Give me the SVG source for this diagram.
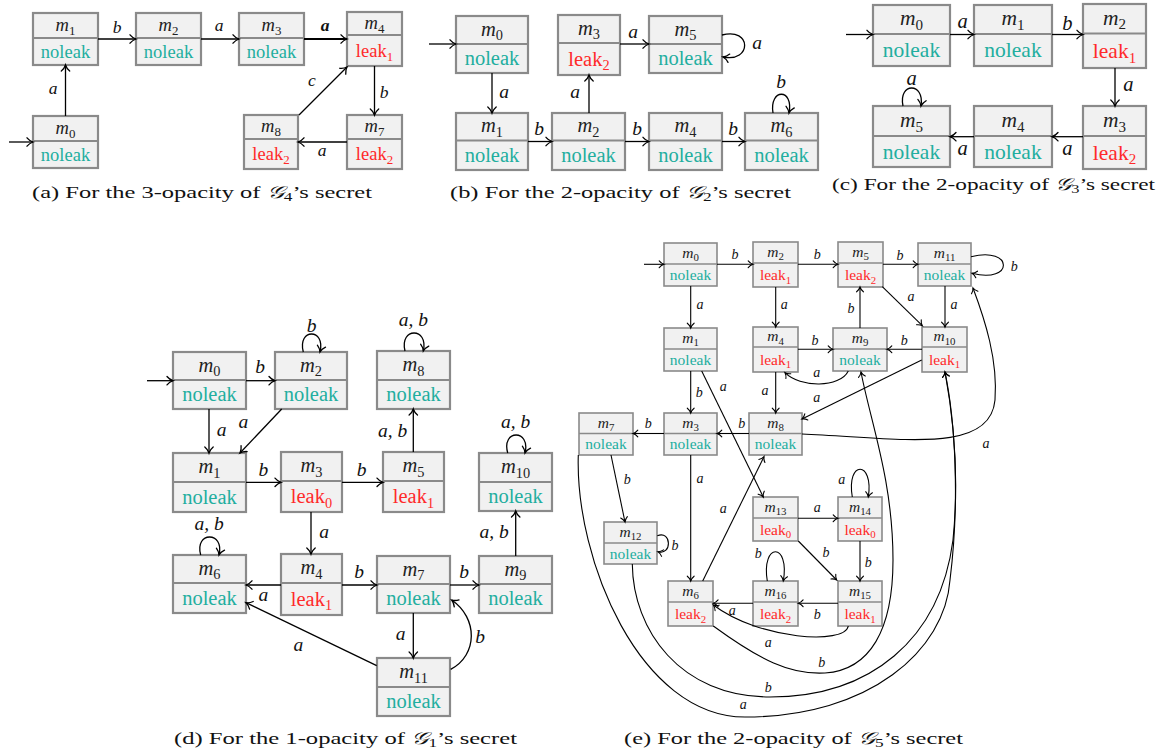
<svg xmlns="http://www.w3.org/2000/svg" width="1166" height="754" viewBox="0 0 1166 754" font-family="'Liberation Serif', serif">
<defs>
<marker id="ar" viewBox="-9 -6 12 12" markerWidth="12" markerHeight="12" refX="0" refY="0" orient="auto" markerUnits="userSpaceOnUse"><path d="M-6,-4.2 C-4,-1.8 -1.6,-0.5 0,0 C-1.6,0.5 -4,1.8 -6,4.2" fill="none" stroke="#000" stroke-width="1.3" stroke-linecap="round"/></marker>
<marker id="ars" viewBox="-9 -6 12 12" markerWidth="12" markerHeight="12" refX="0" refY="0" orient="auto" markerUnits="userSpaceOnUse"><path d="M-4.8,-3.4 C-3.2,-1.4 -1.3,-0.4 0,0 C-1.3,0.4 -3.2,1.4 -4.8,3.4" fill="none" stroke="#000" stroke-width="1.1" stroke-linecap="round"/></marker>
<style>
text{font-family:"Liberation Serif",serif}
.bx{fill:#f1f1f1;stroke:#8a8a8a;stroke-width:2.2}
.dv{stroke:#8a8a8a;stroke-width:2.2}
.se .bx,.se .dv{stroke-width:1.6}
.e{fill:none;stroke:#000;stroke-width:1.3;marker-end:url(#ar)}
.es{fill:none;stroke:#000;stroke-width:1.1;marker-end:url(#ars)}
.t{text-anchor:middle;fill:#222}
.mi{font-style:italic}
.nl{fill:#22ae9f}
.lk{fill:#ff2a2a}
.fa{font-size:18.5px}.fb{font-size:20.5px}.fc{font-size:21.5px}.fe{font-size:15.5px}
.l{font-style:italic;text-anchor:middle;fill:#111}
.la{font-size:17.5px}.lb{font-size:19.5px}.lc{font-size:20.5px}.le{font-size:14px}
.cap{font-size:17px;fill:#111}
</style>
</defs>

<!-- ===== Panel (a) ===== -->
<g id="a-m0"><rect class="bx" x="33" y="116" width="65" height="52"/><line class="dv" x1="33" y1="141" x2="98" y2="141"/><text class="t fa" x="65.5" y="133.5"><tspan class="mi">m</tspan><tspan font-size="70%" dy="4">0</tspan></text><text class="t fa nl" x="65.5" y="160.6">noleak</text></g>
<g id="a-m1"><rect class="bx" x="33" y="13" width="65" height="52"/><line class="dv" x1="33" y1="38" x2="98" y2="38"/><text class="t fa" x="65.5" y="30.5"><tspan class="mi">m</tspan><tspan font-size="70%" dy="4">1</tspan></text><text class="t fa nl" x="65.5" y="57.6">noleak</text></g>
<g id="a-m2"><rect class="bx" x="136" y="13" width="65" height="52"/><line class="dv" x1="136" y1="38" x2="201" y2="38"/><text class="t fa" x="168.5" y="30.5"><tspan class="mi">m</tspan><tspan font-size="70%" dy="4">2</tspan></text><text class="t fa nl" x="168.5" y="57.6">noleak</text></g>
<g id="a-m3"><rect class="bx" x="239" y="13" width="65" height="52"/><line class="dv" x1="239" y1="38" x2="304" y2="38"/><text class="t fa" x="271.5" y="30.5"><tspan class="mi">m</tspan><tspan font-size="70%" dy="4">3</tspan></text><text class="t fa nl" x="271.5" y="57.6">noleak</text></g>
<g id="a-m4"><rect class="bx" x="347" y="12" width="55" height="54"/><line class="dv" x1="347" y1="35" x2="402" y2="35"/><text class="t fa" x="374.5" y="28.5"><tspan class="mi">m</tspan><tspan font-size="70%" dy="4">4</tspan></text><text class="t fa lk" x="374.5" y="56.6">leak<tspan font-size="70%" dy="4">1</tspan></text></g>
<g id="a-m8"><rect class="bx" x="244" y="115" width="54" height="54"/><line class="dv" x1="244" y1="139" x2="298" y2="139"/><text class="t fa" x="271" y="132"><tspan class="mi">m</tspan><tspan font-size="70%" dy="4">8</tspan></text><text class="t fa lk" x="271" y="160.1">leak<tspan font-size="70%" dy="4">2</tspan></text></g>
<g id="a-m7"><rect class="bx" x="347" y="115" width="55" height="54"/><line class="dv" x1="347" y1="139" x2="402" y2="139"/><text class="t fa" x="374.5" y="132"><tspan class="mi">m</tspan><tspan font-size="70%" dy="4">7</tspan></text><text class="t fa lk" x="374.5" y="160.1">leak<tspan font-size="70%" dy="4">2</tspan></text></g>

<!-- ===== Panel (b) ===== -->
<g id="b-m0"><rect class="bx" x="456" y="16" width="72" height="57"/><line class="dv" x1="456" y1="44" x2="528" y2="44"/><text class="t fb" x="492" y="35.5"><tspan class="mi">m</tspan><tspan font-size="70%" dy="4.5">0</tspan></text><text class="t fb nl" x="492" y="65.3">noleak</text></g>
<g id="b-m3"><rect class="bx" x="558" y="15" width="62" height="60"/><line class="dv" x1="558" y1="43" x2="620" y2="43"/><text class="t fb" x="589" y="34.5"><tspan class="mi">m</tspan><tspan font-size="70%" dy="4.5">3</tspan></text><text class="t fb lk" x="589" y="65.8">leak<tspan font-size="70%" dy="4.5">2</tspan></text></g>
<g id="b-m5"><rect class="bx" x="649" y="16" width="73" height="57"/><line class="dv" x1="649" y1="44" x2="722" y2="44"/><text class="t fb" x="685.5" y="35.5"><tspan class="mi">m</tspan><tspan font-size="70%" dy="4.5">5</tspan></text><text class="t fb nl" x="685.5" y="65.3">noleak</text></g>
<g id="b-m1"><rect class="bx" x="456" y="113" width="72" height="57"/><line class="dv" x1="456" y1="140.5" x2="528" y2="140.5"/><text class="t fb" x="492" y="132.3"><tspan class="mi">m</tspan><tspan font-size="70%" dy="4.5">1</tspan></text><text class="t fb nl" x="492" y="162">noleak</text></g>
<g id="b-m2"><rect class="bx" x="552" y="113" width="73" height="57"/><line class="dv" x1="552" y1="140.5" x2="625" y2="140.5"/><text class="t fb" x="588.5" y="132.3"><tspan class="mi">m</tspan><tspan font-size="70%" dy="4.5">2</tspan></text><text class="t fb nl" x="588.5" y="162">noleak</text></g>
<g id="b-m4"><rect class="bx" x="649" y="113" width="73" height="57"/><line class="dv" x1="649" y1="140.5" x2="722" y2="140.5"/><text class="t fb" x="685.5" y="132.3"><tspan class="mi">m</tspan><tspan font-size="70%" dy="4.5">4</tspan></text><text class="t fb nl" x="685.5" y="162">noleak</text></g>
<g id="b-m6"><rect class="bx" x="745" y="113" width="73" height="57"/><line class="dv" x1="745" y1="140.5" x2="818" y2="140.5"/><text class="t fb" x="781.5" y="132.3"><tspan class="mi">m</tspan><tspan font-size="70%" dy="4.5">6</tspan></text><text class="t fb nl" x="781.5" y="162">noleak</text></g>

<!-- ===== Panel (c) ===== -->
<g id="c-m0"><rect class="bx" x="873" y="5" width="77" height="61"/><line class="dv" x1="873" y1="34" x2="950" y2="34"/><text class="t fc" x="911.5" y="25.3"><tspan class="mi">m</tspan><tspan font-size="70%" dy="4.7">0</tspan></text><text class="t fc nl" x="911.5" y="57.1">noleak</text></g>
<g id="c-m1"><rect class="bx" x="974" y="5" width="78" height="61"/><line class="dv" x1="974" y1="34" x2="1052" y2="34"/><text class="t fc" x="1013" y="25.3"><tspan class="mi">m</tspan><tspan font-size="70%" dy="4.7">1</tspan></text><text class="t fc nl" x="1013" y="57.1">noleak</text></g>
<g id="c-m2"><rect class="bx" x="1083" y="4" width="63" height="64"/><line class="dv" x1="1083" y1="33.5" x2="1146" y2="33.5"/><text class="t fc" x="1114.5" y="24.6"><tspan class="mi">m</tspan><tspan font-size="70%" dy="4.7">2</tspan></text><text class="t fc lk" x="1114.5" y="57.9">leak<tspan font-size="70%" dy="4.7">1</tspan></text></g>
<g id="c-m5"><rect class="bx" x="873" y="106" width="77" height="61"/><line class="dv" x1="873" y1="136" x2="950" y2="136"/><text class="t fc" x="911.5" y="126.8"><tspan class="mi">m</tspan><tspan font-size="70%" dy="4.7">5</tspan></text><text class="t fc nl" x="911.5" y="158.6">noleak</text></g>
<g id="c-m4"><rect class="bx" x="974" y="106" width="78" height="61"/><line class="dv" x1="974" y1="136" x2="1052" y2="136"/><text class="t fc" x="1013" y="126.8"><tspan class="mi">m</tspan><tspan font-size="70%" dy="4.7">4</tspan></text><text class="t fc nl" x="1013" y="158.6">noleak</text></g>
<g id="c-m3"><rect class="bx" x="1083" y="106" width="63" height="63"/><line class="dv" x1="1083" y1="136" x2="1146" y2="136"/><text class="t fc" x="1114.5" y="126.8"><tspan class="mi">m</tspan><tspan font-size="70%" dy="4.7">3</tspan></text><text class="t fc lk" x="1114.5" y="159.6">leak<tspan font-size="70%" dy="4.7">2</tspan></text></g>

<!-- ===== Panel (d) ===== -->
<g id="d-m0"><rect class="bx" x="173" y="352" width="73" height="57"/><line class="dv" x1="173" y1="380" x2="246" y2="380"/><text class="t fb" x="209.5" y="371.5"><tspan class="mi">m</tspan><tspan font-size="70%" dy="4.5">0</tspan></text><text class="t fb nl" x="209.5" y="401.3">noleak</text></g>
<g id="d-m2"><rect class="bx" x="275" y="352" width="72" height="57"/><line class="dv" x1="275" y1="380" x2="347" y2="380"/><text class="t fb" x="311" y="371.5"><tspan class="mi">m</tspan><tspan font-size="70%" dy="4.5">2</tspan></text><text class="t fb nl" x="311" y="401.3">noleak</text></g>
<g id="d-m8"><rect class="bx" x="377" y="351" width="73" height="58"/><line class="dv" x1="377" y1="380" x2="450" y2="380"/><text class="t fb" x="413.5" y="371"><tspan class="mi">m</tspan><tspan font-size="70%" dy="4.5">8</tspan></text><text class="t fb nl" x="413.5" y="401.3">noleak</text></g>
<g id="d-m1"><rect class="bx" x="173" y="453" width="73" height="59"/><line class="dv" x1="173" y1="482" x2="246" y2="482"/><text class="t fb" x="209.5" y="473"><tspan class="mi">m</tspan><tspan font-size="70%" dy="4.5">1</tspan></text><text class="t fb nl" x="209.5" y="503.8">noleak</text></g>
<g id="d-m3"><rect class="bx" x="281" y="452" width="61" height="60"/><line class="dv" x1="281" y1="481" x2="342" y2="481"/><text class="t fb" x="311.5" y="472"><tspan class="mi">m</tspan><tspan font-size="70%" dy="4.5">3</tspan></text><text class="t fb lk" x="311.5" y="503.3">leak<tspan font-size="70%" dy="4.5">0</tspan></text></g>
<g id="d-m5"><rect class="bx" x="383" y="452" width="61" height="60"/><line class="dv" x1="383" y1="481" x2="444" y2="481"/><text class="t fb" x="413.5" y="472"><tspan class="mi">m</tspan><tspan font-size="70%" dy="4.5">5</tspan></text><text class="t fb lk" x="413.5" y="503.3">leak<tspan font-size="70%" dy="4.5">1</tspan></text></g>
<g id="d-m10"><rect class="bx" x="479" y="453" width="73" height="58"/><line class="dv" x1="479" y1="482" x2="552" y2="482"/><text class="t fb" x="515.5" y="473"><tspan class="mi">m</tspan><tspan font-size="70%" dy="4.5">10</tspan></text><text class="t fb nl" x="515.5" y="503.3">noleak</text></g>
<g id="d-m6"><rect class="bx" x="173" y="555" width="73" height="58"/><line class="dv" x1="173" y1="583" x2="246" y2="583"/><text class="t fb" x="209.5" y="574.5"><tspan class="mi">m</tspan><tspan font-size="70%" dy="4.5">6</tspan></text><text class="t fb nl" x="209.5" y="604.8">noleak</text></g>
<g id="d-m4"><rect class="bx" x="281" y="554" width="61" height="61"/><line class="dv" x1="281" y1="583" x2="342" y2="583"/><text class="t fb" x="311.5" y="574"><tspan class="mi">m</tspan><tspan font-size="70%" dy="4.5">4</tspan></text><text class="t fb lk" x="311.5" y="605.8">leak<tspan font-size="70%" dy="4.5">1</tspan></text></g>
<g id="d-m7"><rect class="bx" x="377" y="556" width="73" height="57"/><line class="dv" x1="377" y1="584" x2="450" y2="584"/><text class="t fb" x="413.5" y="575.5"><tspan class="mi">m</tspan><tspan font-size="70%" dy="4.5">7</tspan></text><text class="t fb nl" x="413.5" y="605.3">noleak</text></g>
<g id="d-m9"><rect class="bx" x="479" y="556" width="73" height="57"/><line class="dv" x1="479" y1="584" x2="552" y2="584"/><text class="t fb" x="515.5" y="575.5"><tspan class="mi">m</tspan><tspan font-size="70%" dy="4.5">9</tspan></text><text class="t fb nl" x="515.5" y="605.3">noleak</text></g>
<g id="d-m11"><rect class="bx" x="377" y="658" width="73" height="58"/><line class="dv" x1="377" y1="687" x2="450" y2="687"/><text class="t fb" x="413.5" y="678"><tspan class="mi">m</tspan><tspan font-size="70%" dy="4.5">11</tspan></text><text class="t fb nl" x="413.5" y="708.3">noleak</text></g>

<!-- ===== Panel (e) ===== -->
<g class="se">
<g id="e-m0"><rect class="bx" x="664" y="243" width="53" height="43"/><line class="dv" x1="664" y1="264" x2="717" y2="264"/><text class="t fe" x="690.5" y="257.7"><tspan class="mi">m</tspan><tspan font-size="70%" dy="3.4">0</tspan></text><text class="t fe nl" x="690.5" y="280.1">noleak</text></g>
<g id="e-m2"><rect class="bx" x="753" y="242" width="45" height="45"/><line class="dv" x1="753" y1="263" x2="798" y2="263"/><text class="t fe" x="775.5" y="256.7"><tspan class="mi">m</tspan><tspan font-size="70%" dy="3.4">2</tspan></text><text class="t fe lk" x="775.5" y="280.1">leak<tspan font-size="70%" dy="3.4">1</tspan></text></g>
<g id="e-m5"><rect class="bx" x="838" y="242" width="45" height="45"/><line class="dv" x1="838" y1="263" x2="883" y2="263"/><text class="t fe" x="860.5" y="256.7"><tspan class="mi">m</tspan><tspan font-size="70%" dy="3.4">5</tspan></text><text class="t fe lk" x="860.5" y="280.1">leak<tspan font-size="70%" dy="3.4">2</tspan></text></g>
<g id="e-m11"><rect class="bx" x="918" y="243" width="53" height="43"/><line class="dv" x1="918" y1="264" x2="971" y2="264"/><text class="t fe" x="944.5" y="257.7"><tspan class="mi">m</tspan><tspan font-size="70%" dy="3.4">11</tspan></text><text class="t fe nl" x="944.5" y="280.1">noleak</text></g>
<g id="e-m1"><rect class="bx" x="664" y="328" width="53" height="43"/><line class="dv" x1="664" y1="349" x2="717" y2="349"/><text class="t fe" x="690.5" y="342.7"><tspan class="mi">m</tspan><tspan font-size="70%" dy="3.4">1</tspan></text><text class="t fe nl" x="690.5" y="365.1">noleak</text></g>
<g id="e-m4"><rect class="bx" x="753" y="327" width="45" height="45"/><line class="dv" x1="753" y1="347" x2="798" y2="347"/><text class="t fe" x="775.5" y="341.2"><tspan class="mi">m</tspan><tspan font-size="70%" dy="3.4">4</tspan></text><text class="t fe lk" x="775.5" y="364.6">leak<tspan font-size="70%" dy="3.4">1</tspan></text></g>
<g id="e-m9"><rect class="bx" x="833" y="328" width="54" height="43"/><line class="dv" x1="833" y1="349" x2="887" y2="349"/><text class="t fe" x="860" y="342.7"><tspan class="mi">m</tspan><tspan font-size="70%" dy="3.4">9</tspan></text><text class="t fe nl" x="860" y="365.1">noleak</text></g>
<g id="e-m10"><rect class="bx" x="922" y="327" width="45" height="45"/><line class="dv" x1="922" y1="347" x2="967" y2="347"/><text class="t fe" x="944.5" y="341.2"><tspan class="mi">m</tspan><tspan font-size="70%" dy="3.4">10</tspan></text><text class="t fe lk" x="944.5" y="364.6">leak<tspan font-size="70%" dy="3.4">1</tspan></text></g>
<g id="e-m7"><rect class="bx" x="579" y="413" width="54" height="42"/><line class="dv" x1="579" y1="433.5" x2="633" y2="433.5"/><text class="t fe" x="606" y="427.5"><tspan class="mi">m</tspan><tspan font-size="70%" dy="3.4">7</tspan></text><text class="t fe nl" x="606" y="449.4">noleak</text></g>
<g id="e-m3"><rect class="bx" x="664" y="413" width="53" height="42"/><line class="dv" x1="664" y1="433.5" x2="717" y2="433.5"/><text class="t fe" x="690.5" y="427.5"><tspan class="mi">m</tspan><tspan font-size="70%" dy="3.4">3</tspan></text><text class="t fe nl" x="690.5" y="449.4">noleak</text></g>
<g id="e-m8"><rect class="bx" x="749" y="413" width="53" height="42"/><line class="dv" x1="749" y1="433.5" x2="802" y2="433.5"/><text class="t fe" x="775.5" y="427.5"><tspan class="mi">m</tspan><tspan font-size="70%" dy="3.4">8</tspan></text><text class="t fe nl" x="775.5" y="449.4">noleak</text></g>
<g id="e-m13"><rect class="bx" x="753" y="497" width="45" height="44"/><line class="dv" x1="753" y1="518" x2="798" y2="518"/><text class="t fe" x="775.5" y="511.7"><tspan class="mi">m</tspan><tspan font-size="70%" dy="3.4">13</tspan></text><text class="t fe lk" x="775.5" y="534.6">leak<tspan font-size="70%" dy="3.4">0</tspan></text></g>
<g id="e-m14"><rect class="bx" x="838" y="497" width="44" height="44"/><line class="dv" x1="838" y1="518" x2="882" y2="518"/><text class="t fe" x="860" y="511.7"><tspan class="mi">m</tspan><tspan font-size="70%" dy="3.4">14</tspan></text><text class="t fe lk" x="860" y="534.6">leak<tspan font-size="70%" dy="3.4">0</tspan></text></g>
<g id="e-m12"><rect class="bx" x="604" y="522" width="53" height="42"/><line class="dv" x1="604" y1="543" x2="657" y2="543"/><text class="t fe" x="630.5" y="536.7"><tspan class="mi">m</tspan><tspan font-size="70%" dy="3.4">12</tspan></text><text class="t fe nl" x="630.5" y="558.6">noleak</text></g>
<g id="e-m6"><rect class="bx" x="668" y="581" width="45" height="45"/><line class="dv" x1="668" y1="602" x2="713" y2="602"/><text class="t fe" x="690.5" y="595.7"><tspan class="mi">m</tspan><tspan font-size="70%" dy="3.4">6</tspan></text><text class="t fe lk" x="690.5" y="619.1">leak<tspan font-size="70%" dy="3.4">2</tspan></text></g>
<g id="e-m16"><rect class="bx" x="753" y="581" width="45" height="45"/><line class="dv" x1="753" y1="602" x2="798" y2="602"/><text class="t fe" x="775.5" y="595.7"><tspan class="mi">m</tspan><tspan font-size="70%" dy="3.4">16</tspan></text><text class="t fe lk" x="775.5" y="619.1">leak<tspan font-size="70%" dy="3.4">2</tspan></text></g>
<g id="e-m15"><rect class="bx" x="838" y="581" width="44" height="45"/><line class="dv" x1="838" y1="602" x2="882" y2="602"/><text class="t fe" x="860" y="595.7"><tspan class="mi">m</tspan><tspan font-size="70%" dy="3.4">15</tspan></text><text class="t fe lk" x="860" y="619.1">leak<tspan font-size="70%" dy="3.4">1</tspan></text></g>
</g>

<!-- ===== Connectors ===== -->
<g id="connectors">
<path class="e" d="M9,142 L33,142"/>
<path class="e" d="M65.5,116 L65.5,65"/>
<path class="e" d="M98,39 L136,39"/>
<path class="e" d="M201,39 L239,39"/>
<path class="e" d="M304,39 L347,39" style="stroke-width:1.8"/>
<path class="e" d="M374.5,66 L374.5,115"/>
<path class="e" d="M347,142 L298,142"/>
<path class="e" d="M299,115 L347,67"/>
<path class="e" d="M429,44 L456,44"/>
<path class="e" d="M492,73 L492,113"/>
<path class="e" d="M528,141.5 L552,141.5"/>
<path class="e" d="M589,113 L589,75"/>
<path class="e" d="M620,44 L649,44"/>
<path class="e" d="M722,35 C752,27 752,63 723,57"/>
<path class="e" d="M625,141.5 L649,141.5"/>
<path class="e" d="M722,141.5 L745,141.5"/>
<path class="e" d="M773,113 C769,88 794,88 789,113"/>
<path class="e" d="M846,34.5 L873,34.5"/>
<path class="e" d="M950,34.5 L974,34.5"/>
<path class="e" d="M1052,34.5 L1083,34.5"/>
<path class="e" d="M1115,68 L1115,106"/>
<path class="e" d="M1083,136.7 L1052,136.7"/>
<path class="e" d="M974,136.7 L950,136.7"/>
<path class="e" d="M903,106 C898,82 925,82 921,106"/>
<path class="e" d="M147,380.7 L173,380.7"/>
<path class="e" d="M246,380.7 L275,380.7"/>
<path class="e" d="M209,409 L209,453"/>
<path class="e" d="M281.7,409 L240,453"/>
<path class="e" d="M303.3,352 C297,328 326,328 320,352"/>
<path class="e" d="M405,351 C399,327 429,327 423.3,351"/>
<path class="e" d="M246,482.3 L281,482.3"/>
<path class="e" d="M342,482.3 L383,482.3"/>
<path class="e" d="M413.3,452 L413.3,409"/>
<path class="e" d="M507.7,453 C501,429 531,429 525,453"/>
<path class="e" d="M311,512 L311,554"/>
<path class="e" d="M200.7,555 C194,531 225,531 219,555"/>
<path class="e" d="M515.7,556 L515.7,511"/>
<path class="e" d="M281,585 L246,585"/>
<path class="e" d="M342,585 L377,585"/>
<path class="e" d="M450,585 L479,585"/>
<path class="e" d="M413.3,613 L413.3,658"/>
<path class="e" d="M450.7,669.3 C478,655 478,618 451.7,600"/>
<path class="e" d="M376.7,665.7 L246,602.7"/>
<path class="es" d="M644,264.3 L664,264.3"/>
<path class="es" d="M717,264.3 L753,264.3"/>
<path class="es" d="M798,264.3 L838,264.3"/>
<path class="es" d="M883,264.3 L918,264.3"/>
<path class="es" d="M971,256.7 C1014,246 1014,284 972,273.3"/>
<path class="es" d="M690.7,286 L690.7,328"/>
<path class="es" d="M775.7,287 L775.7,327"/>
<path class="es" d="M860,328 L860,287"/>
<path class="es" d="M882.3,286.7 L922.3,325.7"/>
<path class="es" d="M945,286 L945,327"/>
<path class="es" d="M798,349.3 L833,349.3"/>
<path class="es" d="M922,349.3 L887,349.3"/>
<path class="es" d="M848.3,371 C840,388 800,388 785,372.7"/>
<path class="es" d="M690.7,371 L690.7,413"/>
<path class="es" d="M701.7,371 L763.3,497"/>
<path class="es" d="M775.7,372 L775.7,413"/>
<path class="es" d="M921.7,360 L802,419"/>
<path class="es" d="M749,433.5 L717,433.5"/>
<path class="es" d="M664,433.5 L633,433.5"/>
<path class="es" d="M802,434 C900,438 990,455 995,400 C998,360 985,320 973,288"/>
<path class="es" d="M690.7,455 L690.7,581"/>
<path class="es" d="M702.7,581 L764,456.7"/>
<path class="es" d="M611,455 L625,522"/>
<path class="es" d="M657.3,535.7 C672,530 672,556 658,551.7"/>
<path class="es" d="M798,518.3 L838,518.3"/>
<path class="es" d="M852.3,497 C846,460 874,460 868.3,497"/>
<path class="es" d="M798.3,541 L836.7,580"/>
<path class="es" d="M860,541 L860,581"/>
<path class="es" d="M767.3,581 C761,542 790,542 783.3,581"/>
<path class="es" d="M838,603.3 L798.3,603.3"/>
<path class="es" d="M753,603.3 L713.3,603.3"/>
<path class="es" d="M848.3,626 C845,645 760,640 713.3,605"/>
<path class="es" d="M713.3,626 C760,660 790,675 825,673 C870,670 893,630 893,560 C893,480 870,420 861,372"/>
<path class="es" d="M632.3,564 C633,630 680,697 770,697 C870,697 940,640 953,540 C960,470 952,410 945,372"/>
<path class="es" d="M578.3,455 C575,560 640,717 745,717 C870,717 945,650 950,580 C960,500 955,420 945,372"/>
</g>

<!-- ===== Edge labels ===== -->
<g id="labels">
<text class="l la" x="53" y="94">a</text>
<text class="l la" x="117" y="33">b</text>
<text class="l la" x="219" y="31">a</text>
<text class="l la" x="325" y="31" font-weight="bold">a</text>
<text class="l la" x="384" y="98">b</text>
<text class="l la" x="322" y="156">a</text>
<text class="l la" x="312" y="86">c</text>

<text class="l lb" x="504" y="97.5">a</text>
<text class="l lb" x="539" y="134.6">b</text>
<text class="l lb" x="575" y="97.5">a</text>
<text class="l lb" x="633" y="37.5">a</text>
<text class="l lb" x="757" y="48.5">a</text>
<text class="l lb" x="637" y="134.6">b</text>
<text class="l lb" x="733" y="134.6">b</text>
<text class="l lb" x="781" y="87.6">b</text>

<text class="l lc" x="962.7" y="28">a</text>
<text class="l lc" x="1067.3" y="30.3">b</text>
<text class="l lc" x="1128.3" y="91.4">a</text>
<text class="l lc" x="1067.3" y="154.7">a</text>
<text class="l lc" x="962.7" y="154.7">a</text>
<text class="l lc" x="911.7" y="84.7">a</text>

<text class="l lb" x="260" y="373.3">b</text>
<text class="l lb" x="221.7" y="436.2">a</text>
<text class="l lb" x="243.3" y="427.8">a</text>
<text class="l lb" x="311.7" y="331.6">b</text>
<text class="l lb" x="413.3" y="325.7">a, b</text>
<text class="l lb" x="263.3" y="475.9">b</text>
<text class="l lb" x="361.7" y="475.9">b</text>
<text class="l lb" x="392.7" y="436.7">a, b</text>
<text class="l lb" x="515.7" y="427.7">a, b</text>
<text class="l lb" x="324" y="537.8">a</text>
<text class="l lb" x="209" y="530">a, b</text>
<text class="l lb" x="494" y="538.3">a, b</text>
<text class="l lb" x="263.3" y="601.2">a</text>
<text class="l lb" x="359" y="578.3">b</text>
<text class="l lb" x="464" y="578.3">b</text>
<text class="l lb" x="400.7" y="639.5">a</text>
<text class="l lb" x="480" y="643.3">b</text>
<text class="l lb" x="298.3" y="651.2">a</text>

<text class="l le" x="735" y="259.1">b</text>
<text class="l le" x="817.3" y="259.1">b</text>
<text class="l le" x="900" y="259.8">b</text>
<text class="l le" x="1014.3" y="270.5">b</text>
<text class="l le" x="700" y="309.2">a</text>
<text class="l le" x="784.3" y="309.2">a</text>
<text class="l le" x="851" y="313.1">b</text>
<text class="l le" x="911" y="300.9">a</text>
<text class="l le" x="954" y="309.2">a</text>
<text class="l le" x="815" y="344.8">b</text>
<text class="l le" x="904.3" y="344.8">b</text>
<text class="l le" x="816.7" y="376.5">a</text>
<text class="l le" x="699.3" y="396.5">b</text>
<text class="l le" x="723.3" y="390.5">a</text>
<text class="l le" x="765" y="394.9">a</text>
<text class="l le" x="816.7" y="402.2">a</text>
<text class="l le" x="741.7" y="428.1">b</text>
<text class="l le" x="648.3" y="428.1">b</text>
<text class="l le" x="986" y="448.2">a</text>
<text class="l le" x="700" y="483.2">a</text>
<text class="l le" x="723.3" y="512.5">a</text>
<text class="l le" x="627.3" y="483.8">b</text>
<text class="l le" x="675" y="549.8">b</text>
<text class="l le" x="817.3" y="512.2">a</text>
<text class="l le" x="841.7" y="484.2">a</text>
<text class="l le" x="826" y="556.5">b</text>
<text class="l le" x="868.3" y="566.5">b</text>
<text class="l le" x="758.3" y="557.5">b</text>
<text class="l le" x="817.3" y="619.1">b</text>
<text class="l le" x="732.3" y="614.9">a</text>
<text class="l le" x="768.3" y="646.5">a</text>
<text class="l le" x="821.7" y="666.5">b</text>
<text class="l le" x="768.3" y="691.5">b</text>
<text class="l le" x="743.3" y="708.9">a</text>
</g>

<!-- ===== Captions ===== -->
<g id="captions">
<text class="cap" x="32" y="197.5" textLength="340" lengthAdjust="spacingAndGlyphs">(a) For the 3-opacity of <tspan font-style="italic">𝒢</tspan><tspan font-size="12" dy="3">4</tspan><tspan dy="-3">’s secret</tspan></text>
<text class="cap" x="450" y="197.5" textLength="341" lengthAdjust="spacingAndGlyphs">(b) For the 2-opacity of <tspan font-style="italic">𝒢</tspan><tspan font-size="12" dy="3">2</tspan><tspan dy="-3">’s secret</tspan></text>
<text class="cap" x="832" y="189.5" textLength="323" lengthAdjust="spacingAndGlyphs">(c) For the 2-opacity of <tspan font-style="italic">𝒢</tspan><tspan font-size="12" dy="3">3</tspan><tspan dy="-3">’s secret</tspan></text>
<text class="cap" x="174" y="744" textLength="343" lengthAdjust="spacingAndGlyphs">(d) For the 1-opacity of <tspan font-style="italic">𝒢</tspan><tspan font-size="12" dy="3">1</tspan><tspan dy="-3">’s secret</tspan></text>
<text class="cap" x="624" y="744" textLength="339" lengthAdjust="spacingAndGlyphs">(e) For the 2-opacity of <tspan font-style="italic">𝒢</tspan><tspan font-size="12" dy="3">5</tspan><tspan dy="-3">’s secret</tspan></text>
</g>
</svg>
